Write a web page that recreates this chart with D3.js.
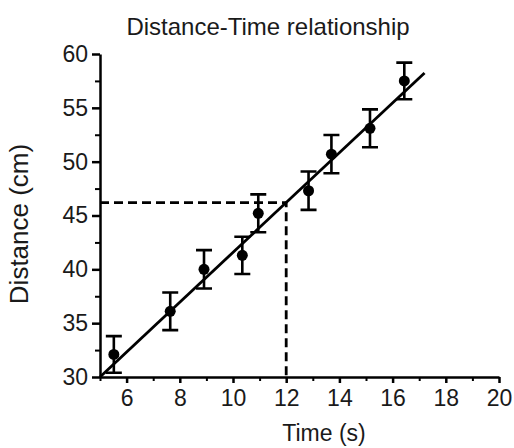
<!DOCTYPE html>
<meta charset="utf-8">
<title>Distance-Time relationship</title>
<style>
body { margin: 0; background: #fff; }
text { font-family: "Liberation Sans", Arial, sans-serif; fill: #1a1a1a; }
.axis path, .axis line { stroke: #000; stroke-width: 2.5px; }
.axis text { font-size: 23px; }
.minor line { stroke-width: 2px; }
.fit { fill: none; stroke: #000; stroke-width: 2.8px; }
.guide { fill: none; stroke: #000; stroke-width: 2.8px; stroke-dasharray: 9,5; }
.err { stroke: #000; stroke-width: 2.6px; }
</style>
<body>
<div id="chart"></div>
<script src="https://cdn.jsdelivr.net/npm/d3@7"></script>
<script>

// data
const time     = [5.52, 7.64, 8.91, 10.35, 10.95, 12.84, 13.70, 15.15, 16.44];
const distance = [32.1, 36.1, 40.0, 41.3, 45.2, 47.3, 50.7, 53.1, 57.5];
const errors   = [1.7, 1.75, 1.78, 1.73, 1.76, 1.78, 1.78, 1.76, 1.7];
const xTicks   = [6, 8, 10, 12, 14, 16, 18, 20];
const yTicks   = [30, 35, 40, 45, 50, 55, 60];
const fit      = {slope: 2.315, intercept: 30 - 2.315 * 5, from: 5, to: 17.2};
const readAt   = 12;

let width = 514, height = 448;
let margin = {top: 54, right: 15, bottom: 71, left: 100};

const svg = d3.select("#chart").append("svg")
    .attr("width", width)
    .attr("height", height);

const x = d3.scaleLinear().domain([5, 20]).range([margin.left, width - margin.right]);
const y = d3.scaleLinear().domain([30, 60]).range([height - margin.bottom, margin.top]);

// minor ticks first so the major ones sit on top
svg.append("g")
    .attr("class", "axis minor")
    .attr("transform", `translate(0,${y(30)})`)
    .call(d3.axisBottom(x).tickValues(d3.range(5, 20, 2)).tickSize(4).tickFormat(""))
    .call(g => g.select(".domain").remove());

svg.append("g")
    .attr("class", "axis minor")
    .attr("transform", `translate(${x(5)},0)`)
    .call(d3.axisLeft(y).tickValues(d3.range(32.5, 60, 5)).tickSize(5).tickFormat(""))
    .call(g => g.select(".domain").remove());

svg.append("g")
    .attr("class", "axis")
    .attr("transform", `translate(0,${y(30)})`)
    .call(d3.axisBottom(x).tickValues(xTicks).tickSize(6).tickSizeOuter(0).tickPadding(7));

svg.append("g")
    .attr("class", "axis")
    .attr("transform", `translate(${x(5)},0)`)
    .call(d3.axisLeft(y).tickValues(yTicks).tickSize(8).tickSizeOuter(0).tickPadding(4));

// dashed read-off lines
const readVal = fit.intercept + fit.slope * readAt;
svg.append("path")
    .attr("class", "guide")
    .attr("d", `M${x(5)},${y(readVal)}H${x(readAt)}V${y(30)}`);

// fitted line
const line = d3.line().x(d => x(d)).y(d => y(fit.intercept + fit.slope * d));
svg.append("path")
    .attr("class", "fit")
    .attr("d", line([fit.from, fit.to]));

// error bars + points
const pts = svg.append("g").selectAll("g")
    .data(time.map((t, i) => ({t: t, d: distance[i], e: errors[i]})))
    .enter().append("g");

pts.append("path")
    .attr("class", "err")
    .attr("d", p => `M${x(p.t)},${y(p.d - p.e)}V${y(p.d + p.e)}`
        + `M${x(p.t) - 8},${y(p.d + p.e)}h16`
        + `M${x(p.t) - 8},${y(p.d - p.e)}h16`);

pts.append("circle")
    .attr("cx", p => x(p.t))
    .attr("cy", p => y(p.d))
    .attr("r", 5.5)
    .attr("fill", "#000");

// titles
svg.append("text")
    .attr("x", 268).attr("y", 35)
    .attr("text-anchor", "middle")
    .attr("font-size", 24)
    .text("Distance-Time relationship");

svg.append("text")
    .attr("x", 324).attr("y", 441)
    .attr("text-anchor", "middle")
    .attr("font-size", 23)
    .text("Time (s)");

svg.append("text")
    .attr("transform", "translate(28,224) rotate(-90)")
    .attr("text-anchor", "middle")
    .attr("font-size", 26)
    .text("Distance (cm)");

</script>
</body>
